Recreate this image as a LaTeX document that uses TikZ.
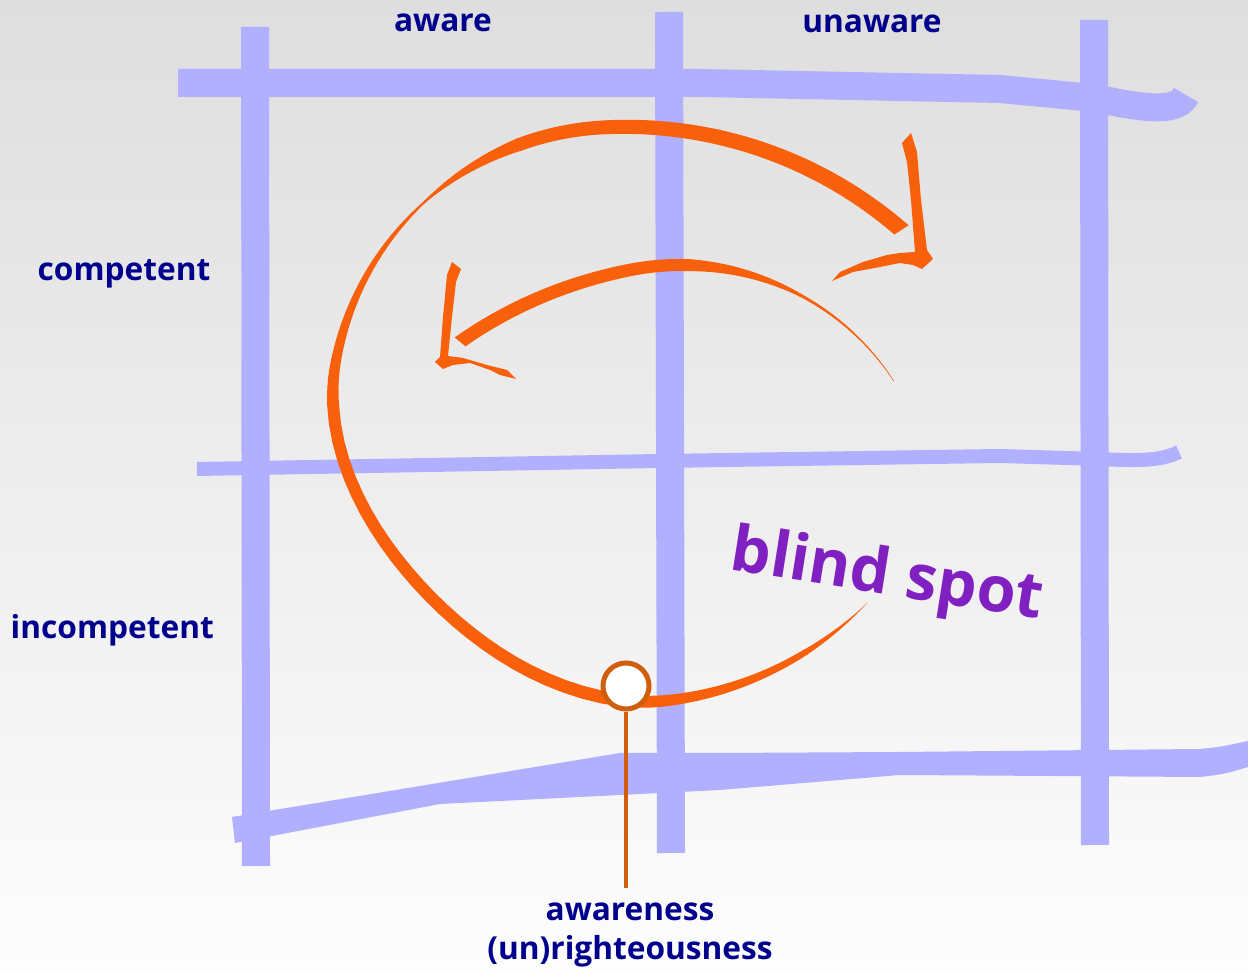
\documentclass[tikz,border=0pt]{standalone}
\usepackage{fontspec}
\setmainfont{Open Sans}
\usepackage{xcolor}
\usetikzlibrary{positioning}
\definecolor{gridBlue}{HTML}{B0B0FF}
\definecolor{swirlOrange}{HTML}{F8600C}
\definecolor{pinBrown}{HTML}{D05E0C}
\definecolor{labelNavy}{HTML}{00008C}
\definecolor{spotPurple}{HTML}{8020C0}
\definecolor{bgTop}{HTML}{DEDEDE}
\definecolor{bgBottom}{HTML}{FDFDFD}
\tikzset{
  gridline/.style={draw=gridBlue,line width=0.28cm},
  gridthin/.style={draw=gridBlue,line width=0.14cm},
  swirl/.style={fill=swirlOrange},
  sidelabel/.style={font=\fontsize{9}{11.1}\selectfont\bfseries,text=labelNavy,inner sep=0pt},
  spotlabel/.style={font=\fontsize{18}{20}\selectfont\bfseries,text=spotPurple,inner sep=0pt},
  pindot/.style={circle,draw=pinBrown,line width=0.05cm,fill=white,minimum size=0.46cm,inner sep=0pt},
  pinline/.style={draw=pinBrown,line width=0.04cm},
  declare function={
    rbig(\t)=287-25*max(0,1-((\t-135)/55)^2)^2+26*max(0,1-(\t-37)/70)*max(0,1-(\t-37)/70)+51*max(0,1-(327-\t)/60)*max(0,1-(327-\t)/60);
    rsmall(\t)=255+28*max(0,1-(141+\t)/40)*max(0,1-(141+\t)/40);
  }
}
% tapered piece of a swirl: centre x, centre y, radius fn, from, to, width from, width to
\newcommand{\swirlband}[7]{%
  \fill[swirl] plot[domain=#4:#5,samples=25,variable=\u]
      ({#1+(#3(\u)+(#6+(#7-#6)*(\u-#4)/(#5-#4))/2)*cos(\u)},{#2+(#3(\u)+(#6+(#7-#6)*(\u-#4)/(#5-#4))/2)*sin(\u)})
    -- plot[domain=#5:#4,samples=25,variable=\u]
      ({#1+(#3(\u)-(#6+(#7-#6)*(\u-#4)/(#5-#4))/2)*cos(\u)},{#2+(#3(\u)-(#6+(#7-#6)*(\u-#4)/(#5-#4))/2)*sin(\u)})
    -- cycle;}

\begin{document}
\begin{tikzpicture}[x=0.01cm,y=-0.01cm]
  \useasboundingbox (0,0) rectangle (1248,974);
  \fill[top color=bgTop,bottom color=bgBottom] (0,0) rectangle (1248,974);

  % grid
  \draw[gridline] (255,27) -- (256,866);
  \draw[gridline] (669,12) -- (671,853);
  \draw[gridline] (1094,20) -- (1095,845);
  \draw[gridline] (178,83) -- (700,83) -- (1000,89) -- (1094,98) .. controls (1150,110) and (1178,112) .. (1186,95);
  \draw[gridthin] (197,469) -- (660,461) -- (1000,456) -- (1100,459) .. controls (1140,461) and (1160,461) .. (1179,452);
  \fill[gridBlue] (232,817) -- (620,753) -- (720,753) -- (900,752) -- (1200,749) .. controls (1220,747) .. (1248,741)
    -- (1248,767) .. controls (1225,774) .. (1200,777) -- (900,775) -- (720,790) -- (440,804) -- (235,843) -- cycle;

  % outer swirl
  \swirlband{618}{414}{rbig}{37}{52}{0}{6}
  \swirlband{618}{414}{rbig}{51.5}{90}{6}{13}
  \swirlband{618}{414}{rbig}{89.5}{182}{13}{12}
  \swirlband{618}{414}{rbig}{181.5}{228}{12}{2}
  \swirlband{618}{414}{rbig}{227.5}{250}{2}{13}
  \swirlband{618}{414}{rbig}{249.5}{290}{13}{15}
  \swirlband{618}{414}{rbig}{289.5}{327}{15}{17}
  \fill[swirl] (902,143) -- (911,133) -- (917,152) -- (921,200) -- (927,250) -- (933,259) -- (922,269)
    -- (913,265) -- (900,263) -- (880,267) -- (853,272) -- (832,281) -- (840,272) -- (863,262)
    -- (887,255) -- (900,253) -- (915,252) -- (911,200) -- (907,162) -- cycle;

  % inner swirl
  \swirlband{680}{520}{rsmall}{-33}{-62}{0.5}{3}
  \swirlband{680}{520}{rsmall}{-61.5}{-88}{3}{12}
  \swirlband{680}{520}{rsmall}{-87.5}{-141}{12}{14}
  \fill[swirl] (452,262) -- (461,269) -- (456,282) -- (452,317) -- (448,356) -- (463,358) -- (487,365)
    -- (507,370) -- (516,379) -- (500,375) -- (490,370) -- (470,363) -- (453,365) -- (443,369)
    -- (435,362) -- (440,357) -- (443,317) -- (447,275) -- cycle;

  % labels
  \node[sidelabel,anchor=base] (aware) at (443,32) {aware};
  \node[sidelabel,anchor=base] (unaware) at (872,33) {unaware};
  \node[sidelabel,anchor=base west] (competent) at (37,281) {competent};
  \node[sidelabel,anchor=base west] (incompetent) at (10,639) {incompetent};
  \node[spotlabel,rotate=-9] (spot) at (887,578) {blind spot};

  \node[pindot] (dot) at (626,686) {};
  \node[sidelabel,align=center,anchor=north,inner ysep=0.14cm] (lbl) at (630,888) {awareness\\(un)righteousness};
  \draw[pinline] (dot) -- (dot |- lbl.north);
\end{tikzpicture}
\end{document}
